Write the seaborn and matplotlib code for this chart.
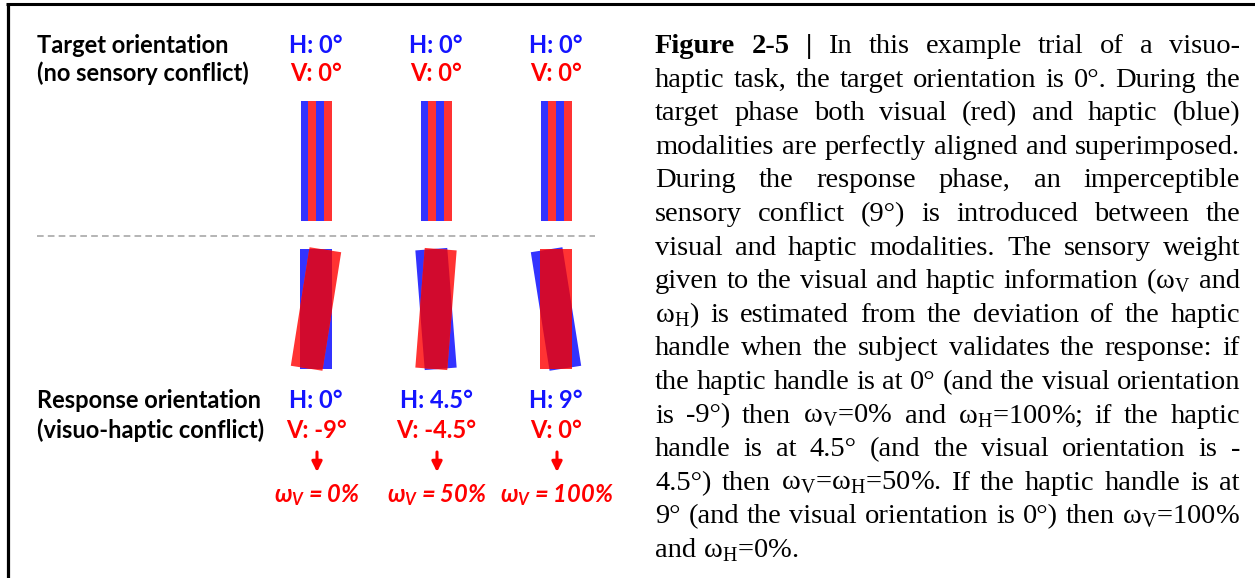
import matplotlib
matplotlib.use("Agg")
import matplotlib.pyplot as plt
from matplotlib.patches import Rectangle
import seaborn as sns

# orientations (deg) of the haptic (H) and visual (V) bars
haptic_target = [0, 0, 0]
visual_target = [0, 0, 0]
haptic_resp = [0, 4.5, 9]
visual_resp = [-9, -4.5, 0]
weight_visual = [0, 50, 100]

target_labels = ["Target orientation", "(no sensory conflict)"]
resp_labels = ["Response orientation", "(visuo-haptic conflict)"]

caption_lines = [
    "Figure 2-5 | In this example trial of a visuo-",
    "haptic task, the target orientation is 0°. During the",
    "target phase both visual (red) and haptic (blue)",
    "modalities are perfectly aligned and superimposed.",
    "During the response phase, an imperceptible",
    "sensory conflict (9°) is introduced between the",
    "visual and haptic modalities. The sensory weight",
    "given to the visual and haptic information (ω$_\\mathrm{V}$ and",
    "ω$_\\mathrm{H}$) is estimated from the deviation of the haptic",
    "handle when the subject validates the response: if",
    "the haptic handle is at 0° (and the visual orientation",
    "is -9°) then ω$_\\mathrm{V}$=0% and ω$_\\mathrm{H}$=100%; if the haptic",
    "handle is at 4.5° (and the visual orientation is -",
    "4.5°) then ω$_\\mathrm{V}$=ω$_\\mathrm{H}$=50%. If the haptic handle is at",
    "9° (and the visual orientation is 0°) then ω$_\\mathrm{V}$=100%",
    "and ω$_\\mathrm{H}$=0%.",
]

sns.set_theme(style="white")
plt.rcParams["mathtext.fontset"] = "custom"
plt.rcParams["mathtext.rm"] = "Liberation Serif"
plt.rcParams["mathtext.it"] = "Lato:italic:bold"
plt.rcParams["font.family"] = ["Lato", "DejaVu Sans"]

BLUE = "#3333ff"
RED = "#ff3333"
OVERLAP = "#d10a2e"
TXT_BLUE = "#1414ff"
TXT_RED = "#ff0000"

fig = plt.figure(figsize=(12.55, 5.78), dpi=100)
ax = fig.add_axes([0, 0, 1, 1])
ax.set_xlim(0, 1255)
ax.set_ylim(578, 0)
ax.axis("off")

col_x = [316, 436, 556]
lab_fs = 17

# frame
ax.plot([6, 1255], [4, 4], color="black", lw=2.2, solid_capstyle="butt")
ax.plot([7.5, 7.5], [4, 578], color="black", lw=2.3, solid_capstyle="butt")

# row labels
for i, s in enumerate(target_labels):
    ax.text(37, 53 + 28 * i, s, fontsize=lab_fs, fontweight="bold", color="black", va="baseline")
for i, s in enumerate(resp_labels):
    ax.text(37, 408 + 30 * i, s, fontsize=lab_fs, fontweight="bold", color="black", va="baseline")

# target phase: bars superimposed, drawn as interleaved stripes
bw, bh = 31, 120
for x, h, v in zip(col_x, haptic_target, visual_target):
    ax.text(x, 53, f"H: {h:g}°", fontsize=lab_fs, fontweight="bold", color=TXT_BLUE, ha="center", va="baseline")
    ax.text(x, 81, f"V: {v:g}°", fontsize=lab_fs, fontweight="bold", color=TXT_RED, ha="center", va="baseline")
    sw = bw / 4
    for k, c in enumerate([BLUE, RED, BLUE, RED]):
        ax.add_patch(Rectangle((x - bw / 2 + k * sw, 161 - bh / 2), sw, bh, facecolor=c, edgecolor="none"))

ax.plot([37, 595], [236, 236], color="#a8a8a8", lw=1.2, dashes=(4, 2.5))

# response phase: rotated bars, overlap in dark red
bw2 = 32
cy = 309
for x, h, v, w in zip(col_x, haptic_resp, visual_resp, weight_visual):
    hb = Rectangle((x - bw2 / 2, cy - bh / 2), bw2, bh, angle=-h, rotation_point="center",
                   facecolor=BLUE, edgecolor="none")
    vb = Rectangle((x - bw2 / 2, cy - bh / 2), bw2, bh, angle=-v, rotation_point="center",
                   facecolor=RED, edgecolor="none")
    ov = Rectangle((x - bw2 / 2, cy - bh / 2), bw2, bh, angle=-v, rotation_point="center",
                   facecolor=OVERLAP, edgecolor="none")
    ax.add_patch(hb)
    ax.add_patch(vb)
    ax.add_patch(ov)
    # clip with the path itself (a Rectangle clip would use its axis-aligned box)
    ov.set_clip_path(hb.get_path(), hb.get_transform())

    ax.text(x, 408, f"H: {h:g}°", fontsize=lab_fs, fontweight="bold", color=TXT_BLUE, ha="center", va="baseline")
    ax.text(x, 438, f"V: {v:g}°", fontsize=lab_fs, fontweight="bold", color=TXT_RED, ha="center", va="baseline")
    ax.annotate("", xy=(x + 1, 472), xytext=(x + 1, 452),
                arrowprops=dict(arrowstyle="-|>", color=TXT_RED, lw=2.2, mutation_scale=15,
                                shrinkA=0, shrinkB=0))
    ax.text(x + 1, 502, f"$\\omega_V$ = {w:g}%", fontsize=lab_fs, fontweight="bold", fontstyle="italic",
            color=TXT_RED, ha="center", va="baseline")

# caption, justified between x0 and x1
x0, x1 = 655, 1240
cap_fs = 20.5
y0, dy = 53, 33.6
fig.canvas.draw()
renderer = fig.canvas.get_renderer()
space = 0.25 * cap_fs * 100 / 72
for i, line in enumerate(caption_lines):
    y = y0 + i * dy
    words = line.split(" ")
    items = []
    for j, wd in enumerate(words):
        bold = i == 0 and j < 3
        t = ax.text(0, y, wd, fontsize=cap_fs, family="Liberation Serif",
                    fontweight="bold" if bold else "normal", color="black", va="baseline")
        items.append(t)
    widths = [t.get_window_extent(renderer).width for t in items]
    if i == len(caption_lines) - 1:
        gap = space
    else:
        gap = (x1 - x0 - sum(widths)) / (len(words) - 1)
    xx = x0
    for t, wpx in zip(items, widths):
        t.set_x(xx)
        xx += wpx + gap

fig.savefig("out.png", dpi=100)
